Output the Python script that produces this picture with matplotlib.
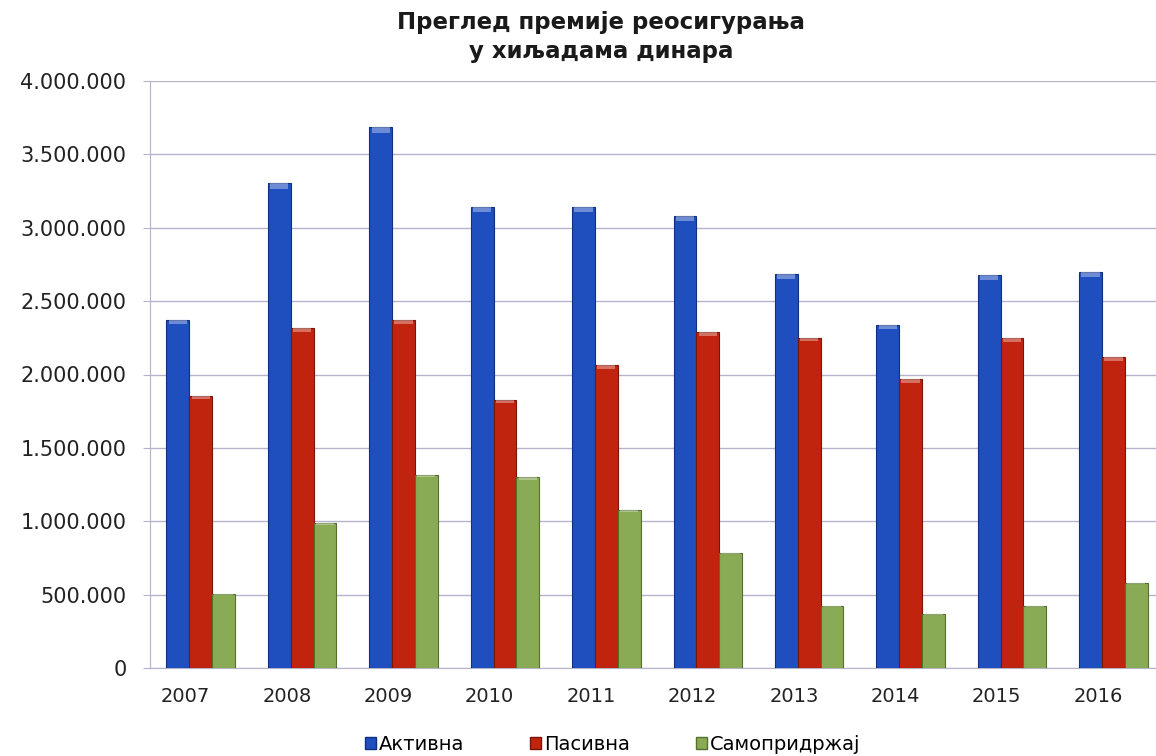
import numpy as np
import matplotlib.pyplot as plt
from matplotlib.ticker import FuncFormatter
from matplotlib.patches import Patch

# values, thousands of dinars
years = ["2007", "2008", "2009", "2010", "2011", "2012", "2013", "2014", "2015", "2016"]
aktivna = [2370000, 3307000, 3689000, 3143000, 3143000, 3080000, 2684000, 2336000, 2677000, 2696000]
pasivna = [1854000, 2318000, 2370000, 1829000, 2063000, 2291000, 2252000, 1968000, 2250000, 2120000]
samopridrzaj = [501000, 988000, 1318000, 1300000, 1076000, 783000, 422000, 365000, 422000, 581000]
series_names = ["Активна", "Пасивна", "Самопридржај"]
colors = ["#1f4fbf", "#c0240f", "#8aab55"]
edges = ["#0f2f80", "#7a1508", "#55702f"]

plt.rcParams['font.family'] = ['DejaVu Sans']

fig = plt.figure(figsize=(11.56, 7.56), dpi=100)
ax = fig.add_axes([150/1156, 1 - 668/756, 1 - 150/1156, 587/756])

x = np.arange(len(years))
w = 0.225
for i, (vals, c, e) in enumerate(zip([aktivna, pasivna, samopridrzaj], colors, edges)):
    ax.bar(x + (i - 1) * w, vals, width=w, color=c, edgecolor=e, linewidth=0.8, zorder=3)
    # lighter cap on the top of each bar
    ax.bar(x + (i - 1) * w, [v * 0.012 for v in vals], bottom=[v * 0.988 for v in vals],
           width=w * 0.8, color="white", alpha=0.35, linewidth=0, zorder=4)

ax.set_ylim(0, 4000000)
ax.set_yticks(np.arange(0, 4000001, 500000))
ax.yaxis.set_major_formatter(FuncFormatter(lambda v, p: f"{int(v):,}".replace(",", ".")))
ax.set_xlim(-0.5, 9.42)
ax.set_xticks(x - 0.15)
ax.set_xticklabels(years)

ax.grid(axis="y", color="#b3b3cc", linewidth=1.0, zorder=0)
for s in ["top", "right"]:
    ax.spines[s].set_visible(False)
ax.spines["left"].set_color("#b3b3cc")
ax.spines["bottom"].set_color("#b3b3cc")
ax.tick_params(axis="y", labelsize=15, colors="#b3b3cc", labelcolor="#222222", length=5, pad=12)
ax.tick_params(axis="x", labelsize=14, labelcolor="#222222", length=0, pad=14)

fig.text(0.52, 0.985, "Преглед премије реосигурања\nу хиљадама динара", ha="center", va="top",
         fontsize=16.5, fontweight="bold", color="#1a1a1a", linespacing=1.3)

handles = [Patch(facecolor=c, edgecolor=e, label=n) for c, e, n in zip(colors, edges, series_names)]
fig.legend(handles=handles, loc="lower center", bbox_to_anchor=(0.53, -0.02), ncol=3, frameon=False,
           fontsize=14, handlelength=0.55, handleheight=0.55, handletextpad=0.15, columnspacing=3.4)

fig.savefig("out.png", dpi=100)
